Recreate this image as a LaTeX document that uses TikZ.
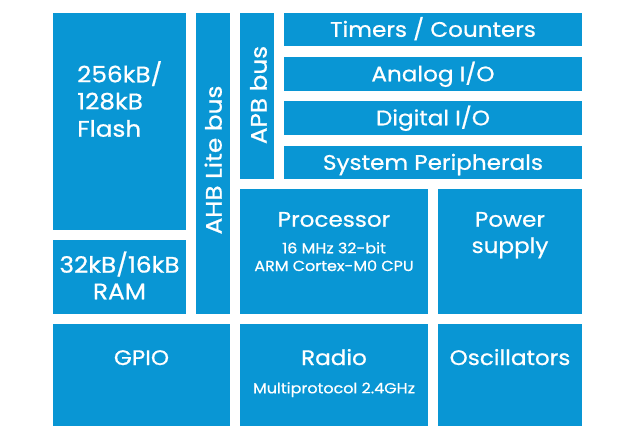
\documentclass[tikz,border=0pt]{standalone}
\usepackage{fontspec}
\setmainfont{Poppins}[FakeBold=0.7, FakeStretch=1.1]
\usetikzlibrary{positioning}
\definecolor{chipblue}{RGB}{9,150,212}

\begin{document}
\begin{tikzpicture}[
  x=1pt, y=-1pt,
  block/.style={fill=chipblue, inner sep=0pt, anchor=north west},
  title/.style={text=white, inner sep=0pt, anchor=base, font=\fontsize{21}{25}\selectfont},
  bigtitle/.style={title, font=\fontsize{22.5}{27}\selectfont},
  subtitle/.style={text=white, inner sep=0pt, anchor=base, font=\fontsize{14.5}{17}\selectfont}
]
  \useasboundingbox (0,0) rectangle (640,441);

  % memories and buses
  \node[block, minimum width=133, minimum height=217] (flash) at (53,13)  {};
  \node[block, minimum width=133, minimum height=74]  (ram)   at (53,240) {};
  \node[block, minimum width=34,  minimum height=301] (ahb)   at (196,13) {};
  \node[block, minimum width=34,  minimum height=166] (apb)   at (240,13) {};

  % peripherals on the APB bus
  \node[block, minimum width=298, minimum height=33] (timers)  at (284,13)  {};
  \node[block, minimum width=298, minimum height=34] (analog)  at (284,57)  {};
  \node[block, minimum width=298, minimum height=34] (digital) at (284,101) {};
  \node[block, minimum width=298, minimum height=33] (sysper)  at (284,146) {};

  % core blocks
  \node[block, minimum width=188, minimum height=125] (proc)  at (240,189) {};
  \node[block, minimum width=144, minimum height=125] (power) at (438,189) {};
  \node[block, minimum width=177, minimum height=102] (gpio)  at (53,324)  {};
  \node[block, minimum width=188, minimum height=102] (radio) at (240,324) {};
  \node[block, minimum width=144, minimum height=102] (osc)   at (438,324) {};

  % labels
  \node[bigtitle, anchor=base west] (flashA) at (77,82.3)  {256kB/};
  \node[bigtitle, anchor=base west] (flashB) at (77,109.3) {128kB};
  \node[bigtitle, anchor=base west] (flashC) at (77,136.7) {Flash};

  \node[bigtitle] (ramA) at (119.5,272.7) {32kB/16kB};
  \node[bigtitle] (ramB) at (119.5,299.3) {RAM};

  \node[bigtitle, rotate=90] (ahbtext) at (221.7,160) {AHB Lite bus};
  \node[bigtitle, rotate=90] (apbtext) at (266.7,95)  {APB bus};

  \node[title] (timerstext)  at (433,36.8)  {Timers / Counters};
  \node[title] (analogtext)  at (433,81.3)  {Analog I/O};
  \node[title] (digitaltext) at (433,125.3) {Digital I/O};
  \node[title] (sypertext)   at (433,169.8) {System Peripherals};

  \node[title]    (proctext)  at (334,226.7) {Processor};
  \node[subtitle] (procsubA)  at (334,253.3) {16 MHz 32-bit};
  \node[subtitle] (procsubB)  at (334,271)   {ARM Cortex-M0 CPU};

  \node[title] (powerA) at (510,226.7) {Power};
  \node[title] (powerB) at (510,253)   {supply};

  \node[title]    (gpiotext)  at (141.5,365) {GPIO};
  \node[title]    (radiotext) at (334,365)   {Radio};
  \node[subtitle] (radiosub)  at (334,393.3) {Multiprotocol 2.4GHz};
  \node[title]    (osctext)   at (510,365)   {Oscillators};
\end{tikzpicture}
\end{document}
